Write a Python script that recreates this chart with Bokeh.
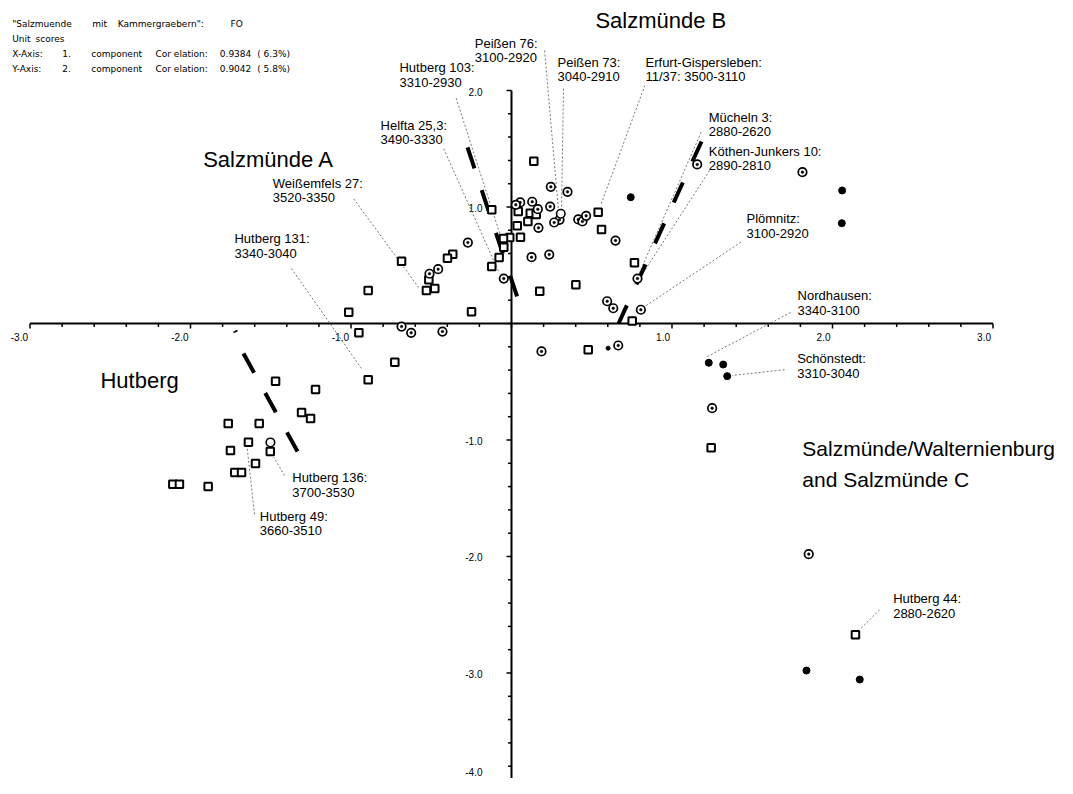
import numpy as np
from bokeh.plotting import figure
from bokeh.models import Range1d, Label
from bokeh.core.properties import value
from bokeh.embed import file_html
from bokeh.resources import INLINE

# ---------------- data (unit scores, component 1 vs component 2) ----------------
square_x = [0.139, -0.123, 0.042, 0.117, 0.154, 0.540, 0.102, 0.036, 0.561, -0.011,
            -0.050, 0.056, -0.048, -0.366, -0.399, -0.685, -0.077, -0.123, -0.515, -0.530,
            -0.478, 0.766, 0.401, 0.176, -0.249, 0.752, -0.893, -1.014, -0.951, -0.727,
            -0.893, 0.478, 1.244, 2.143, -1.470, -1.221, -1.308, -1.252, -1.765, -1.572,
            -1.639, -1.503, -1.751, -1.595, -1.724, -1.682, -2.110, -2.069, -1.890]
square_y = [1.393, 0.976, 0.961, 0.947, 0.936, 0.955, 0.876, 0.839, 0.807, 0.738,
            0.730, 0.741, 0.655, 0.595, 0.561, 0.535, 0.567, 0.489, 0.375, 0.283,
            0.300, 0.521, 0.332, 0.277, 0.100, 0.021, 0.283, 0.097, -0.080, -0.332,
            -0.483, -0.226, -1.067, -2.672, -0.495, -0.567, -0.764, -0.815, -0.858, -0.858,
            -1.019, -1.099, -1.090, -1.202, -1.279, -1.279, -1.379, -1.379, -1.399]

dotcircle_x = [0.245, 0.349, 0.054, 0.027, 0.129, 0.241, 0.164, 0.299, 0.266, 0.416,
               0.442, 0.465, 0.168, 0.648, -0.272, 0.125, 0.235, -0.457, -0.511, -0.048,
               0.785, 0.596, 0.634, 0.806, -0.685, -0.625, -0.430, 0.187, 0.665, 1.157,
               1.813, 1.250, 1.852]
dotcircle_y = [1.173, 1.130, 1.039, 1.019, 1.045, 1.004, 0.981, 0.890, 0.867, 0.893,
               0.876, 0.924, 0.821, 0.712, 0.695, 0.569, 0.592, 0.466, 0.427, 0.386,
               0.386, 0.191, 0.131, 0.118, -0.026, -0.080, -0.069, -0.240, -0.189, 1.365,
               1.299, -0.727, -1.980]

opencircle_x = [0.307, -1.502]
opencircle_y = [0.942, -1.021]

filled_x = [0.743, 2.060, 2.058, 1.229, 1.319, 1.344, 1.838, 2.170]
filled_y = [1.084, 1.142, 0.861, -0.337, -0.352, -0.452, -2.979, -3.056]

smalldot_x = [0.602]
smalldot_y = [-0.212]

# group boundaries (dashed dividers)
divider_x0 = [-0.274, 1.184, -1.670]
divider_y0 = [1.511, 1.562, -0.258]
divider_x1 = [0.037, 0.667, -1.333]
divider_y1 = [0.223, 0.000, -1.099]

# axis tick labels
x_tick_values = [-3, -2, -1, 1, 2, 3]
x_tick_labels = ["-3.0", "-2.0", "-1.0", "1.0", "2.0", "3.0"]
y_tick_values = [2, 1, -1, -2, -3, -4]
y_tick_labels = ["2.0", "1.0", "-1.0", "-2.0", "-3.0", "-4.0"]

# annotated units
anno_names = ["Hutberg 131:", "Weißemfels 27:", "Helfta 25,3:", "Hutberg 103:", "Peißen 76:",
              "Peißen 73:", "Erfurt-Gispersleben:", "Mücheln 3:", "Köthen-Junkers 10:",
              "Plömnitz:", "Nordhausen:", "Schönstedt:", "Hutberg 136:", "Hutberg 49:",
              "Hutberg 44:"]
anno_dates = ["3340-3040", "3520-3350", "3490-3330", "3310-2930", "3100-2920",
              "3040-2910", "11/37: 3500-3110", "2880-2620", "2890-2810",
              "3100-2920", "3340-3100", "3310-3040", "3700-3530", "3660-3510",
              "2880-2620"]

group_names = ["Salzmünde A", "Salzmünde B", "Hutberg"]
group_names_wide = ["Salzmünde/Walternienburg", "and Salzmünde C"]

header_rows = [
    ['"Salzmuende', 'mit', 'Kammergraebern":', 'FO'],
    ['Unit', 'scores'],
    ['X-Axis:', '1.', 'component', 'Cor elation:', '0.9384', '(  6.3%)'],
    ['Y-Axis:', '2.', 'component', 'Cor elation:', '0.9042', '(  5.8%)'],
]

# ---------------- layout ----------------
W, H = 1057, 778
XR = (-3.1838, 3.4019)
YR = (-3.9056, 2.7725)
ppx = W / (XR[1] - XR[0])
ppy = H / (YR[1] - YR[0])

# annotation layout (data units)
anno_tx = [-1.726, -1.487, -0.816, -0.698, -0.229, 0.287, 0.835, 1.229, 1.229, 1.464,
           1.782, 1.780, -1.366, -1.568, 2.378]
anno_ty = [0.727, 1.204, 1.700, 2.195, 2.406, 2.243, 2.243, 1.771, 1.479, 0.899,
           0.240, -0.303, -1.324, -1.654, -2.363]
lead_x0 = [-1.371, -0.983, -0.422, -0.345, 0.206, 0.324, 0.831, 1.182, 1.234, 1.429,
           1.738, 1.701, -1.414, -1.601, 2.293]
lead_y0 = [0.472, 1.070, 1.500, 1.934, 2.343, 2.017, 2.043, 1.642, 1.313, 0.698,
           0.094, -0.397, -1.305, -1.639, -2.458]
lead_x1 = [-0.935, -0.579, -0.075, -0.069, 0.293, 0.312, 0.555, 0.798, 0.822, 0.824,
           1.221, 1.375, -1.481, -1.647, 2.174]
lead_y1 = [-0.386, 0.309, 0.429, 0.755, 0.970, 0.987, 1.013, 0.438, 0.438, 0.140,
           -0.283, -0.446, -1.148, -1.067, -2.621]
group_tx = [-1.921, 0.523, -2.561]
group_ty = [1.405, 2.601, -0.489]
group_wide_tx = [1.812, 1.812]
group_wide_ty = [-1.073, -1.339]

header_col_px = [
    [11.7, 91.7, 117.3, 230],
    [11.7, 35],
    [11.7, 61.7, 90.7, 155, 219.3, 256.7],
    [11.7, 61.7, 90.7, 155, 219.3, 256.7],
]
header_row_px = [23.3, 38.3, 53.3, 68.3]

p = figure(width=W, height=H, x_range=Range1d(*XR), y_range=Range1d(*YR),
           output_backend="svg", toolbar_location=None,
           x_axis_location=None, y_axis_location=None, min_border=0)
p.xgrid.visible = False
p.ygrid.visible = False
p.outline_line_color = None
p.background_fill_color = "white"
p.border_fill_color = "white"

# ---------------- axes drawn through the origin ----------------
p.segment(x0=[-3], y0=[0], x1=[3], y1=[0], line_color="black", line_width=2)
p.segment(x0=[0], y0=[-4], x1=[0], y1=[2], line_color="black", line_width=2)

xt = np.round(np.arange(-3, 3.0001, 0.2), 1)
xlen = np.where(np.isclose(xt, np.round(xt)), 5.0, 3.5)
p.segment(x0=xt, y0=np.zeros_like(xt), x1=xt, y1=-xlen / ppy, line_color="black", line_width=1.5)
yt = np.round(np.arange(-4, 2.0001, 0.2), 1)
ylen = np.where(np.isclose(yt, np.round(yt)), 5.0, 3.5)
p.segment(x0=np.zeros_like(yt), y0=yt, x1=-ylen / ppx, y1=yt, line_color="black", line_width=1.5)

p.text(x=x_tick_values, y=[0] * len(x_tick_values), text=x_tick_labels,
       x_offset=-2, y_offset=14, text_align="right", text_baseline="middle",
       text_font=value("Liberation Sans"), text_font_size="10px", text_color="black")
p.text(x=[0] * len(y_tick_values), y=y_tick_values, text=y_tick_labels,
       x_offset=-29, y_offset=[2, 1, 1, 1, 1, -17], text_align="right", text_baseline="middle",
       text_font=value("Liberation Sans"), text_font_size="10px", text_color="black")

# ---------------- leaders and dividers ----------------
p.segment(x0=lead_x0, y0=lead_y0, x1=lead_x1, y1=lead_y1, line_color="#555555",
          line_width=0.8, line_dash="2 2")
for i in range(len(divider_x0)):
    p.line([divider_x0[i], divider_x1[i]], [divider_y0[i], divider_y1[i]],
           line_color="black", line_width=4, line_dash="22 23")
p.segment(x0=[-1.732], y0=[-0.077], x1=[-1.707], y1=[-0.060], line_color="black", line_width=1.5)

# ---------------- points ----------------
p.scatter(square_x, square_y, marker="square", size=7.5, fill_color="white",
          line_color="black", line_width=2)
p.scatter(dotcircle_x, dotcircle_y, marker="circle", size=8.5, fill_color="white",
          line_color="black", line_width=1.7)
p.scatter(dotcircle_x, dotcircle_y, marker="circle", size=2.6, fill_color="black",
          line_color="black", line_width=0.5)
p.scatter(opencircle_x, opencircle_y, marker="circle", size=8.5, fill_color="white",
          line_color="black", line_width=1.6)
p.scatter(filled_x, filled_y, marker="circle", size=7, fill_color="black", line_color="black")
p.scatter(smalldot_x, smalldot_y, marker="circle", size=4, fill_color="black", line_color="black")

# ---------------- labels ----------------
p.text(x=anno_tx, y=anno_ty, text=anno_names, text_align="left", text_baseline="middle",
       text_font=value("Liberation Sans"), text_font_size="13px", text_color="black")
p.text(x=anno_tx, y=anno_ty, text=anno_dates, y_offset=14.5, text_align="left",
       text_baseline="middle", text_font=value("Liberation Sans"), text_font_size="13px",
       text_color="black")
p.text(x=group_tx, y=group_ty, text=group_names, text_align="left", text_baseline="middle",
       text_font=value("Liberation Sans"), text_font_size="22px", text_color="black")
p.text(x=group_wide_tx, y=group_wide_ty, text=group_names_wide, text_align="left",
       text_baseline="middle", text_font=value("Liberation Sans"), text_font_size="21px",
       text_color="black")

for r, row in enumerate(header_rows):
    for c, word in enumerate(row):
        p.add_layout(Label(x=header_col_px[r][c], y=H - header_row_px[r], x_units="screen",
                           y_units="screen", text=word, text_font="DejaVu Sans",
                           text_font_size="9px", text_baseline="middle", text_color="black"))

open("out.html", "w").write(file_html(p, INLINE))
